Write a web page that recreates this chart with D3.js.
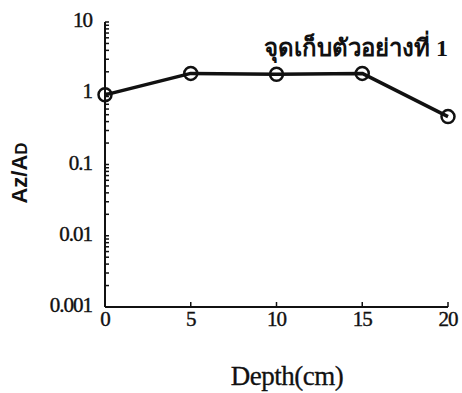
<!DOCTYPE html>
<html><head><meta charset="utf-8">
<script src="https://cdn.jsdelivr.net/npm/d3@7"></script>
<style>body{margin:0;background:#fff}svg{display:block}</style>
</head><body>
<script>
const depths = [0, 5, 10, 15, 20];
const ratios = [0.95, 1.9, 1.85, 1.9, 0.47];
const xTickValues = [0, 5, 10, 15, 20];
const yTickValues = [0.001, 0.01, 0.1, 1, 10];
const yTickLabels = ["0.001", "0.01", "0.1", "1", "10"];
const seriesLabel = "จุดเก็บตัวอย่างที่ 1";
const xTitle = "Depth(cm)";

const W = 462, H = 393;
const svg = d3.select("body").append("svg").attr("width", W).attr("height", H);
const x = d3.scaleLinear().domain([0, 20]).range([105, 448]);
const y = d3.scaleLog().domain([0.001, 10]).range([307, 22]);
const ink = "#111";

// axes lines
svg.append("line").attr("x1", x(0)).attr("x2", x(0)).attr("y1", y(10)).attr("y2", y(0.001))
  .attr("stroke", ink).attr("stroke-width", 2);
svg.append("line").attr("x1", x(0)).attr("x2", x(20)).attr("y1", y(0.001)).attr("y2", y(0.001))
  .attr("stroke", ink).attr("stroke-width", 2);

// y minor/major ticks (inside)
const yt = [];
for (let e = -3; e < 1; e++) for (let m = 1; m <= 9; m++) yt.push(m * Math.pow(10, e));
yt.push(10);
svg.selectAll(".ytk").data(yt).enter().append("line")
  .attr("x1", x(0)).attr("x2", d => x(0) + 4)
  .attr("y1", d => y(d)).attr("y2", d => y(d))
  .attr("stroke", ink).attr("stroke-width", 1.5);

// x ticks (inside)
svg.selectAll(".xtk").data(xTickValues.slice(1)).enter().append("line")
  .attr("x1", d => x(d)).attr("x2", d => x(d))
  .attr("y1", y(0.001)).attr("y2", y(0.001) - 5)
  .attr("stroke", ink).attr("stroke-width", 1.5);

// y tick labels
svg.selectAll(".ylab").data(yTickValues).enter().append("text")
  .attr("x", 92).attr("y", d => y(d) - 2)
  .attr("text-anchor", "end").attr("dominant-baseline", "central")
  .attr("font-family", "Liberation Serif").attr("font-size", 21).attr("letter-spacing", -1)
  .attr("stroke", ink).attr("stroke-width", 0.4)
  .attr("fill", ink).text((d, i) => yTickLabels[i]);

// x tick labels
svg.selectAll(".xlab").data(xTickValues).enter().append("text")
  .attr("x", d => x(d)).attr("y", 326)
  .attr("text-anchor", "middle")
  .attr("font-family", "Liberation Serif").attr("font-size", 21).attr("letter-spacing", -1)
  .attr("stroke", ink).attr("stroke-width", 0.4)
  .attr("fill", ink).text(d => d);

// x title
svg.append("text").attr("x", 287).attr("y", 385).attr("text-anchor", "middle")
  .attr("font-family", "Liberation Serif").attr("font-size", 27).attr("letter-spacing", -0.5)
  .attr("stroke", ink).attr("stroke-width", 0.3)
  .attr("fill", ink).text(xTitle);

// y title
const yl = svg.append("text").attr("transform", "translate(27,173) rotate(-90)")
  .attr("text-anchor", "middle")
  .attr("font-family", "Liberation Sans").attr("font-weight", "bold").attr("font-size", 22)
  .attr("fill", ink);
yl.append("tspan").text("Az/A");
yl.append("tspan").attr("font-size", 17).text("D");

// line
const line = d3.line().x((d, i) => x(depths[i])).y(d => y(d));
svg.append("path").datum(ratios).attr("d", line)
  .attr("fill", "none").attr("stroke", ink).attr("stroke-width", 3.5).attr("stroke-linejoin", "round");

svg.selectAll(".pt").data(ratios).enter().append("circle")
  .attr("cx", (d, i) => x(depths[i])).attr("cy", d => y(d)).attr("r", 6.5)
  .attr("fill", "none").attr("stroke", ink).attr("stroke-width", 2.5);

// series label
svg.append("text").attr("x", 448).attr("y", 56).attr("text-anchor", "end")
  .attr("font-family", "Liberation Serif, Noto Sans, DejaVu Sans").attr("font-weight", "bold").attr("font-size", 24)
  .attr("fill", ink).text(seriesLabel);
</script>
</body></html>
